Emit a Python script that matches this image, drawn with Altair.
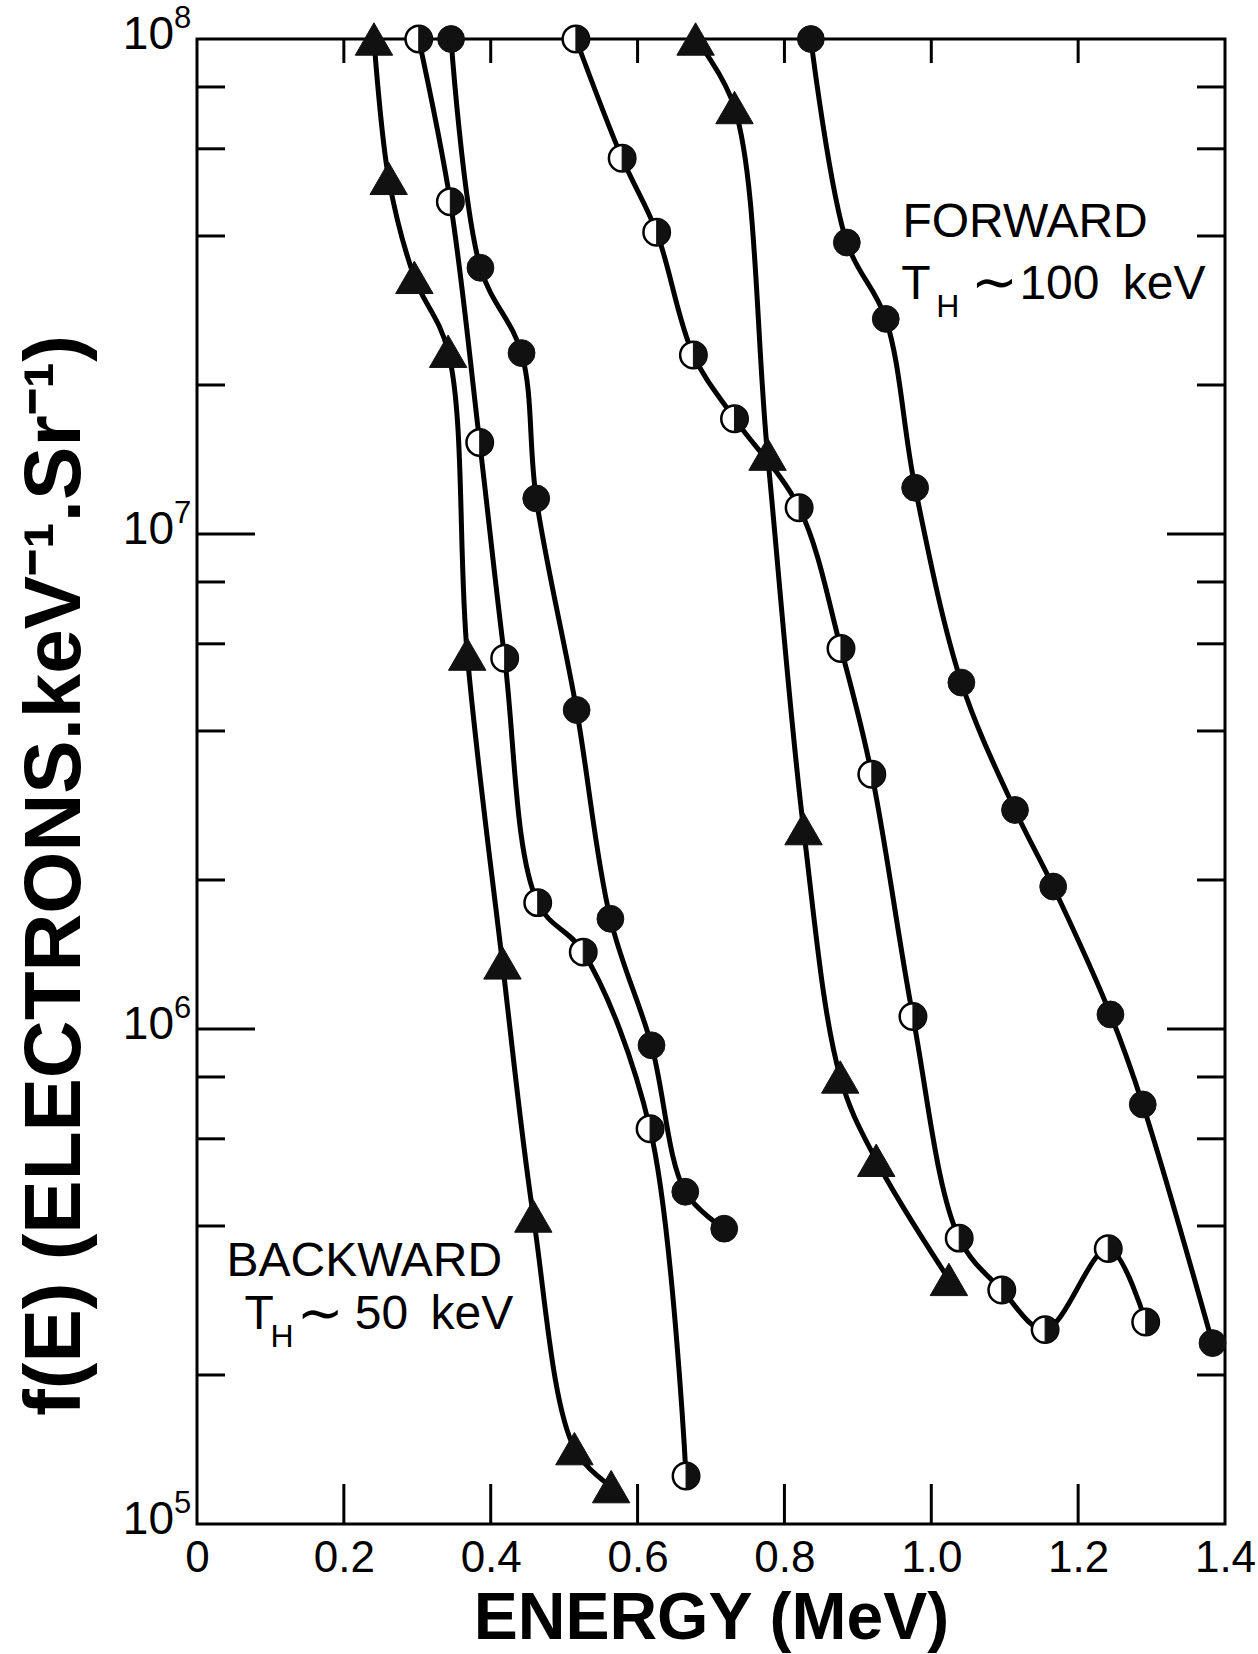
import altair as alt
import pandas as pd

# ---------------- data ----------------
# energy (MeV) and f(E) (electrons / keV / sr)
bwd_tri_E = [0.241, 0.261, 0.296, 0.342, 0.368, 0.416, 0.458, 0.514, 0.564]
bwd_tri_f = [1.0e8, 5.23e7, 3.30e7, 2.34e7, 5.72e6, 1.36e6, 4.19e5, 1.42e5, 1.19e5]

bwd_half_E = [0.302, 0.345, 0.385, 0.419, 0.464, 0.526, 0.617, 0.666]
bwd_half_f = [1.0e8, 4.69e7, 1.53e7, 5.61e6, 1.80e6, 1.43e6, 6.29e5, 1.25e5]

bwd_full_E = [0.346, 0.386, 0.442, 0.462, 0.517, 0.563, 0.619, 0.665, 0.718]
bwd_full_f = [1.0e8, 3.45e7, 2.32e7, 1.18e7, 4.41e6, 1.67e6, 9.27e5, 4.69e5, 3.95e5]

fwd_tri_E = [0.679, 0.732, 0.777, 0.826, 0.876, 0.925, 1.024]
fwd_tri_f = [1.0e8, 7.27e7, 1.45e7, 2.54e6, 8.00e5, 5.43e5, 3.12e5]

fwd_half_E = [0.516, 0.579, 0.626, 0.676, 0.732, 0.820, 0.877, 0.919, 0.975,
              1.038, 1.096, 1.155, 1.241, 1.292]
fwd_half_f = [1.0e8, 5.74e7, 4.07e7, 2.30e7, 1.71e7, 1.13e7, 5.87e6, 3.27e6, 1.06e6,
              3.78e5, 2.97e5, 2.47e5, 3.60e5, 2.56e5]

fwd_full_E = [0.836, 0.885, 0.938, 0.978, 1.041, 1.114, 1.166, 1.244, 1.288, 1.383]
fwd_full_f = [1.0e8, 3.88e7, 2.72e7, 1.24e7, 5.01e6, 2.77e6, 1.94e6, 1.07e6, 7.04e5, 2.32e5]

# axis ticks / labels
x_label_vals = [0.0, 0.2, 0.4, 0.6, 0.8, 1.0, 1.2, 1.4]
x_tick_vals = [0.2, 0.4, 0.6, 0.8, 1.0, 1.2]
y_decades = [1e5, 1e6, 1e7, 1e8]
y_exps = ["5", "6", "7", "8"]
y_major_ticks = [1e6, 1e7]
y_minor_ticks = [2e5, 4e5, 6e5, 8e5, 2e6, 4e6, 6e6, 8e6, 2e7, 4e7, 6e7, 8e7]

# annotations (anchored in data coordinates)
ann_text = ["FORWARD", "T", "100", "keV", "BACKWARD", "T", "50", "keV"]
ann_E = [0.9607, 0.9592, 1.1200, 1.2608, 0.0402, 0.0646, 0.2150, 0.318]
ann_f = [3.98e7, 2.99e7, 2.99e7, 2.99e7, 3.17e5, 2.48e5, 2.48e5, 2.48e5]
sub_text = ["H", "H"]
sub_E = [1.0066, 0.100]
sub_f = [2.74e7, 2.28e5]
tilde_text = ["\u223c", "\u223c"]
tilde_E = [1.0540, 0.1360]
tilde_f = [2.95e7, 2.44e5]

# ---------------- build tables ----------------
series = [
    ("bwd_tri", "tri", bwd_tri_E, bwd_tri_f),
    ("bwd_half", "half", bwd_half_E, bwd_half_f),
    ("bwd_full", "full", bwd_full_E, bwd_full_f),
    ("fwd_tri", "tri", fwd_tri_E, fwd_tri_f),
    ("fwd_half", "half", fwd_half_E, fwd_half_f),
    ("fwd_full", "full", fwd_full_E, fwd_full_f),
]
rows = []
for name, mk, Es, fs in series:
    for i, (e, f) in enumerate(zip(Es, fs)):
        rows.append({"E": e, "f": f, "series": name, "marker": mk, "order": i})
df = pd.DataFrame(rows)

W, H = 1028, 1485
FONT = "Liberation Sans"
NARROW = "Liberation Sans Narrow, Liberation Sans"

xscale = alt.Scale(domain=[0, 1.4], nice=False, zero=False)
yscale = alt.Scale(type="log", domain=[1e5, 1e8], nice=False)

xaxis = alt.Axis(
    values=x_label_vals,
    labelExpr="datum.value == 0 ? '0' : format(datum.value, '.1f')",
    ticks=False, tickSize=0, domain=False, grid=False,
    labelFont=NARROW, labelFontSize=44, labelColor="black",
    labelPadding=12, labelFlush=False, labelOverlap=False,
    title="ENERGY (MeV)", titleFont=FONT, titleFontSize=66,
    titleFontWeight="bold", titleColor="black",
    titleBaseline="alphabetic", titleY=114,
)
yaxis = alt.Axis(
    labels=False, ticks=False, domain=False, grid=False,
    title="f(E) (ELECTRONS.keV\u207b\u00b9.Sr\u207b\u00b9)",
    titleFont=FONT, titleFontSize=80, titleFontWeight="bold", titleColor="black",
    titleAngle=270, titleAlign="center", titleBaseline="middle",
    titleX=-142, titleY=836,
)

X = alt.X("E:Q", scale=xscale, axis=xaxis)
Y = alt.Y("f:Q", scale=yscale, axis=yaxis)

base = alt.Chart(df)

lines = base.mark_line(interpolate="catmull-rom", color="black", strokeWidth=5).encode(
    x=X, y=Y, detail="series:N", order="order:Q"
)

tri = base.transform_filter(alt.datum.marker == "tri").mark_point(
    shape="triangle-up", filled=True, fill="#111", stroke="#111", strokeWidth=1,
    size=1400, opacity=1
).encode(x=X, y=Y)

full = base.transform_filter(alt.datum.marker == "full").mark_point(
    shape="circle", filled=True, fill="#111", stroke="#111", strokeWidth=1,
    size=720, opacity=1
).encode(x=X, y=Y)

half_bg = base.transform_filter(alt.datum.marker == "half").mark_point(
    shape="circle", filled=True, fill="white", stroke="black", strokeWidth=2.5,
    size=700, opacity=1
).encode(x=X, y=Y)

half_fg = base.transform_filter(alt.datum.marker == "half").mark_point(
    shape="M0,-1 A1,1 0 0,1 0,1 Z", filled=True, fill="#111", stroke="#111",
    strokeWidth=1, size=700, opacity=1
).encode(x=X, y=Y)

# frame ticks (inward)
xt = pd.DataFrame({"E": x_tick_vals})
xt_bottom = alt.Chart(xt).mark_rule(color="black", strokeWidth=3).encode(
    x=X, y=alt.value(H), y2=alt.value(H - 40))
xt_top = alt.Chart(xt).mark_rule(color="black", strokeWidth=3).encode(
    x=X, y=alt.value(0), y2=alt.value(24))

ymin = pd.DataFrame({"f": y_minor_ticks})
ymaj = pd.DataFrame({"f": y_major_ticks})
yt_left_min = alt.Chart(ymin).mark_rule(color="black", strokeWidth=3).encode(
    y=Y, x=alt.value(0), x2=alt.value(28))
yt_left_maj = alt.Chart(ymaj).mark_rule(color="black", strokeWidth=3).encode(
    y=Y, x=alt.value(0), x2=alt.value(58))
yt_right_min = alt.Chart(ymin).mark_rule(color="black", strokeWidth=3).encode(
    y=Y, x=alt.value(W), x2=alt.value(W - 28))
yt_right_maj = alt.Chart(ymaj).mark_rule(color="black", strokeWidth=3).encode(
    y=Y, x=alt.value(W), x2=alt.value(W - 58))

# y tick labels: "10" with a raised exponent
ylab = pd.DataFrame({"f": y_decades, "base": ["10"] * len(y_decades), "exp": y_exps})
ylab_base = alt.Chart(ylab).mark_text(
    align="right", baseline="middle", font=FONT, fontSize=46, color="black", dy=-4
).encode(y=Y, x=alt.value(-23), text="base:N")
ylab_exp = alt.Chart(ylab).mark_text(
    align="left", baseline="middle", font=FONT, fontSize=31, color="black", dy=-20
).encode(y=Y, x=alt.value(-23), text="exp:N")

# annotations
ann = pd.DataFrame({"E": ann_E, "f": ann_f, "t": ann_text})
sub = pd.DataFrame({"E": sub_E, "f": sub_f, "t": sub_text})
til = pd.DataFrame({"E": tilde_E, "f": tilde_f, "t": tilde_text})
ann_l = alt.Chart(ann).mark_text(
    align="left", baseline="alphabetic", font=FONT, fontSize=48, color="black"
).encode(x=X, y=Y, text="t:N")
sub_l = alt.Chart(sub).mark_text(
    align="left", baseline="alphabetic", font=FONT, fontSize=32, color="black"
).encode(x=X, y=Y, text="t:N")
til_l = alt.Chart(til).mark_text(
    align="left", baseline="alphabetic", font="DejaVu Sans", fontSize=56, color="black"
).encode(x=X, y=Y, text="t:N")

chart = alt.layer(
    xt_bottom, xt_top, yt_left_min, yt_left_maj, yt_right_min, yt_right_maj,
    lines, tri, full, half_bg, half_fg,
    ylab_base, ylab_exp, ann_l, sub_l, til_l,
).properties(
    width=W, height=H,
    padding={"left": 197, "top": 39, "right": 33, "bottom": 130},
    autosize=alt.AutoSizeParams(type="none"),
    background="white",
).configure_view(stroke="black", strokeWidth=3)

chart.save("out.html", embed_options={"renderer": "svg", "actions": False})
